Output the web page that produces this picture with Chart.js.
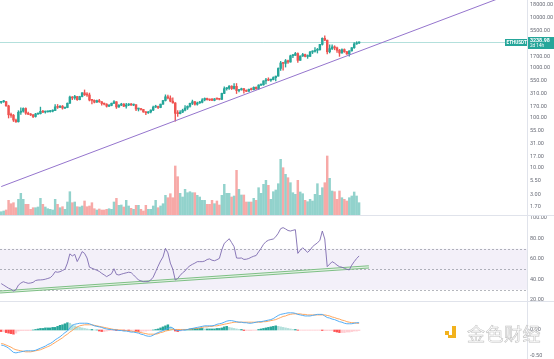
<!DOCTYPE html>
<html>
<head>
<meta charset="utf-8">
<script src="https://cdn.jsdelivr.net/npm/chart.js@4.4.0/dist/chart.umd.min.js"></script>
<style>
  body { margin: 0; background: #fff; width: 554px; height: 359px; overflow: hidden; position: relative; }
  canvas { position: absolute; left: 0; }
  #wm { position: absolute; left: 444px; top: 322px; width: 110px; height: 24px; pointer-events: none; }
  #wm .dot { position: absolute; left: 1px; top: 9px; width: 4px; height: 4px; background: #f2b21d; }
  #wm .bar { position: absolute; left: 8px; top: 4px; width: 4px; height: 12px; background: #f2b21d; }
  #wm .foot { position: absolute; left: 4px; top: 13px; width: 8px; height: 3px; background: #f2b21d; }
  #wm .txt { position: absolute; left: 23px; top: -2px; font-family: "Noto Sans CJK SC", sans-serif; font-size: 18px; letter-spacing: 0.5px;
             color: rgba(255,255,255,0.7); -webkit-text-stroke: 0.6px #c4c4c4; white-space: nowrap; }
</style>
</head>
<body>
<canvas id="price" width="554" height="215" style="top:0"></canvas>
<canvas id="rsi" width="554" height="86" style="top:215px"></canvas>
<canvas id="macd" width="554" height="58" style="top:301px"></canvas>
<div id="wm"><i class="dot"></i><i class="bar"></i><i class="foot"></i><span class="txt">金色财经</span></div>
<script>
// ETHUSDT weekly, 2018-10-29 .. 2021-08-16
const symbolName = 'ETHUSDT';
const countdown = '2d 14h';

const opens = [205,211,212,174,116,113,91,84,130,137,155,125,119,115,107,120,122,136,131,133,
  134,137,141,167,163,172,158,162,197,262,251,268,232,268,318,291,288,228,225,207,
  222,211,195,189,172,178,197,211,166,180,190,172,182,183,181,184,151,151,148,132,
  127,132,144,165,170,162,189,223,265,250,217,200,124,122,131,143,158,171,196,211,
  188,200,206,230,246,232,229,225,241,239,236,310,385,393,432,387,428,353,368,384,
  354,341,375,368,409,383,455,460,550,575,568,584,640,685,975,1255,1230,1390,1310,1745,
  1780,1935,1416,1727,1850,1690,1700,2075,2140,2240,2300,2945,3900,3580,2100,2430,2630,2510,2250,1980,
  2320,2110,1900,2190,2530,3010,3150];
const highs = [216,225,214,180,125,118,95,140,160,160,160,132,123,118,124,126,165,142,138,137,
  142,145,185,186,177,178,163,200,275,268,285,270,272,320,363,320,315,237,230,228,
  237,213,199,193,185,199,223,212,185,197,194,197,193,196,190,186,157,152,149,134,
  135,145,173,180,172,190,225,290,287,277,254,202,140,140,150,176,175,198,228,215,
  208,215,245,252,250,239,248,245,250,245,313,420,405,445,440,488,488,375,395,392,
  365,378,395,420,417,460,475,555,622,635,598,660,690,1000,1350,1270,1475,1440,1800,1870,
  2040,2000,1750,1945,1880,1820,2150,2200,2550,2450,2950,3980,4372,3600,2900,2890,2770,2610,2340,2400,
  2400,2130,2200,2550,3190,3330,3330];
const lows = [196,205,172,100,103,85,82,83,118,130,118,117,112,102,104,118,120,128,125,130,
  130,132,140,155,160,150,153,160,195,232,235,225,230,264,281,270,219,190,200,205,
  205,180,182,165,168,175,194,155,163,176,168,158,176,179,176,140,138,144,130,116,
  124,127,140,162,153,160,187,218,240,210,197,86,107,120,128,139,148,164,185,180,
  180,196,199,220,226,222,222,220,234,230,232,305,360,370,370,378,308,330,358,312,
  335,338,360,365,370,372,440,450,480,555,535,575,550,680,890,900,1040,1230,1300,1600,
  1770,1290,1410,1700,1660,1550,1680,1930,2050,1980,2250,2850,3500,1900,2000,2320,2300,2040,1700,1960,
  2040,1850,1720,2150,2460,2950,3030];
const closes = [211,212,174,116,113,91,84,130,137,155,125,119,115,107,120,122,136,131,133,134,
  137,141,167,163,172,158,162,197,262,251,268,232,268,318,291,288,228,225,207,222,
  211,195,189,172,178,197,211,166,180,190,172,182,183,181,184,151,151,148,132,127,
  132,144,165,170,162,189,223,265,250,217,200,124,122,131,143,158,171,196,211,188,
  200,206,230,246,232,229,225,241,239,236,310,385,393,432,387,428,353,368,384,354,
  341,375,368,409,383,455,460,550,575,568,584,640,685,975,1255,1230,1390,1310,1745,1780,
  1935,1416,1727,1850,1690,1700,2075,2140,2240,2300,2945,3900,3580,2100,2430,2630,2510,2250,1980,2320,
  2110,1900,2190,2530,3010,3150,3238.98];
const volumes = [3.3,4,5,14.7,11.3,12.3,7.3,15.7,21.7,15.7,10.7,10.7,5.7,7.3,7.3,8,16.7,10.7,8,6.3,
  5.7,5,15.7,10.7,7.3,8.3,5.7,13,23.3,12.3,13,8.3,8,9,14,8.3,9,12.3,6.3,5,
  6,5,5,5.7,6.3,5.7,13,16.7,9.7,10,8,14.7,9,6.7,5.7,9.7,9.7,5.7,4,9.7,
  5.7,5.7,9,14.7,7.3,9,11.3,19.7,17.3,21.3,17.3,49,38.3,21.7,18,25.7,22.3,23.3,22.3,22.3,
  19.7,18,14.7,14.7,10.7,10.7,14.7,11.3,14,10,19.7,30.7,21.7,21.7,18,19,44.7,25.7,20,20,
  13,13,13,16.7,14.7,27.3,21.7,30.7,34.7,29.7,15.7,23.3,25,31.3,55.7,47.3,40.7,37.3,32.3,22.3,
  20.7,34.7,23,21.3,14.7,13.3,15.7,14,20.7,31.3,19.7,27.3,32.3,59,36.7,24,23.3,15.7,24,17.3,
  15.7,14,17.3,19,23,19,12.3];
const rsiValues = [36,34.5,33,31.5,30.5,28.8,30,34.5,36.5,37.8,37,36.3,36.6,37.2,39,39.5,39.6,39.8,40.3,41,
  41.8,44,47.6,47.1,47.6,48.8,50,56,65,63,64.5,57.5,62,67.2,65.5,61,52,51,50,49,
  47.9,46,44.5,42.8,44.2,45.6,50.5,45,44.4,45.2,45.9,46.5,47.1,46.7,44.4,42,39.5,38.7,37.9,37.9,
  37.9,39.5,42.3,47.6,53,58,62,70.4,66,56,50,39.5,41,44,46.6,48.4,51.4,53.4,54.8,56,
  57.4,57.4,57.4,58,59.5,60.1,58.8,58.3,59.3,60.6,69,75.3,77.4,79.8,76,72,61,60.8,61,59.6,
  59.8,60.5,61.7,62.7,63.4,67,70.4,74.3,76.9,78.3,79,79.5,81.7,85.1,89.6,90.6,89.3,87.8,87.3,88,
  88.6,65.5,68.6,71,68.7,66.5,68.7,72,74,75.7,78.3,87.3,79.5,52.5,55,57.4,56,54,52.5,52,
  50.9,50,49.3,54,57.4,60.5,63];
const macdValues = [-0.29,-0.30,-0.32,-0.35,-0.39,-0.43,-0.44,-0.43,-0.42,-0.41,-0.40,-0.40,-0.40,-0.40,-0.39,-0.37,-0.35,-0.33,-0.31,-0.28,
  -0.26,-0.23,-0.19,-0.16,-0.13,-0.09,-0.05,-0.02,0.04,0.09,0.11,0.12,0.13,0.13,0.13,0.13,0.12,0.10,0.08,0.07,
  0.06,0.05,0.03,0.02,0.01,0.01,0.00,0.00,-0.01,-0.01,-0.02,-0.02,-0.03,-0.04,-0.04,-0.05,-0.06,-0.08,-0.09,-0.11,
  -0.12,-0.12,-0.10,-0.07,-0.05,-0.03,-0.01,0.01,0.03,0.05,0.04,0.00,-0.01,-0.01,0.00,0.00,0.01,0.02,0.03,0.04,
  0.05,0.06,0.07,0.08,0.08,0.08,0.08,0.09,0.11,0.12,0.13,0.15,0.17,0.18,0.18,0.17,0.16,0.15,0.15,0.14,
  0.14,0.13,0.13,0.14,0.15,0.16,0.16,0.17,0.18,0.19,0.20,0.22,0.25,0.28,0.30,0.31,0.32,0.33,0.33,0.33,
  0.32,0.30,0.29,0.28,0.27,0.27,0.27,0.28,0.29,0.30,0.30,0.30,0.27,0.24,0.23,0.21,0.20,0.18,0.16,0.15,
  0.13,0.12,0.12,0.12,0.13,0.14,0.14];
const signalValues = [-0.26,-0.27,-0.29,-0.31,-0.33,-0.36,-0.38,-0.39,-0.40,-0.41,-0.42,-0.42,-0.42,-0.41,-0.40,-0.39,-0.38,-0.36,-0.34,-0.32,
  -0.30,-0.27,-0.24,-0.21,-0.18,-0.15,-0.11,-0.08,-0.04,-0.01,0.03,0.06,0.08,0.09,0.10,0.10,0.10,0.10,0.09,0.08,
  0.07,0.06,0.05,0.04,0.03,0.02,0.01,0.01,0.00,0.00,-0.01,-0.01,-0.02,-0.02,-0.03,-0.03,-0.04,-0.05,-0.06,-0.07,
  -0.08,-0.08,-0.08,-0.08,-0.07,-0.05,-0.04,-0.02,-0.01,0.00,0.01,0.01,0.01,0.01,0.01,0.01,0.01,0.01,0.02,0.03,
  0.03,0.04,0.05,0.06,0.06,0.07,0.07,0.08,0.08,0.09,0.10,0.11,0.12,0.13,0.14,0.15,0.15,0.15,0.15,0.15,
  0.15,0.15,0.15,0.15,0.15,0.15,0.15,0.16,0.16,0.17,0.18,0.19,0.20,0.22,0.24,0.26,0.27,0.29,0.30,0.31,
  0.31,0.31,0.31,0.30,0.30,0.29,0.29,0.29,0.29,0.29,0.29,0.29,0.29,0.28,0.27,0.25,0.24,0.22,0.21,0.19,
  0.18,0.16,0.15,0.14,0.14,0.13,0.13];
const histValues = [-0.03,-0.03,-0.05,-0.06,-0.07,-0.08,-0.06,-0.02,-0.01,-0.01,-0.01,-0.01,-0.01,0,0.01,0.02,0.03,0.03,0.04,0.04,
  0.04,0.05,0.05,0.07,0.09,0.10,0.12,0.14,0.13,0.10,0.08,0.06,0.05,0.04,0.03,0.02,0.01,0.01,0,0,
  -0.02,-0.03,-0.03,-0.02,-0.01,-0.01,-0.005,-0.01,-0.01,-0.005,-0.01,-0.005,-0.01,-0.01,-0.01,-0.02,-0.03,-0.03,-0.02,-0.02,
  -0.01,-0.01,0,0.01,0.02,0.04,0.06,0.08,0.10,0.06,0.03,-0.02,-0.03,-0.02,-0.01,0,0.01,0.02,0.03,0.03,
  0.03,0.03,0.03,0.02,0.02,0.02,0.02,0.02,0.03,0.03,0.04,0.06,0.07,0.05,0.04,0.03,0.02,0.01,0.01,-0.01,
  -0.01,-0.01,-0.01,-0.005,-0.005,0.01,0.02,0.03,0.04,0.05,0.06,0.07,0.08,0.07,0.06,0.05,0.04,0.03,0.02,0.01,
  0.01,-0.005,-0.005,-0.005,-0.005,-0.005,-0.005,-0.005,-0.005,-0.005,-0.005,-0.01,-0.01,-0.01,-0.01,-0.01,-0.03,-0.04,-0.05,-0.05,
  -0.05,-0.04,-0.04,-0.03,-0.02,-0.02,-0.01];

const priceTicks = [18000, 10000, 5500, 1700, 1000, 550, 310, 170, 100, 55, 31, 17, 10, 5.5, 3, 1.7];
const rsiTicks = [100, 80, 60, 40, 20];
const macdTicks = [0, -0.5];
const rsiLevels = [70, 50, 30];

// drawn trend lines (bar index, value)
const trendIdx = [0, 214];
const trendPrice = [4.28, 38900];
const rsiTrendIdx = [-0.5, 150];
const rsiTrendValue = [27.8, 52.3];

const SLOTS = 215;
const UP = '#26a69a', DOWN = '#ef5350';
const up = closes.map((c, i) => c >= opens[i]);

const xAxis = { type: 'linear', display: false, min: -0.5, max: SLOTS - 0.5, offset: false };

function rightAxis(type, min, max, ticks) {
  return {
    type, position: 'right', min, max,
    grid: { display: false, drawTicks: false },
    border: { display: false },
    // fixed axis width, no extra padding so the pane fills the canvas
    afterFit: s => { s.width = 27; s.paddingTop = 0; s.paddingBottom = 0; },
    afterBuildTicks: s => { s.ticks = ticks.map(v => ({ value: v })); },
    ticks: {
      autoSkip: false, padding: 3, color: '#6a6d78',
      font: { size: 5.5, family: 'Roboto' },
      callback: v => Number(v).toFixed(2)
    }
  };
}

// right axis border + pane separator
const paneFrame = {
  id: 'paneFrame',
  afterDraw(chart, args, opts) {
    const { ctx, chartArea: a } = chart;
    ctx.save();
    ctx.strokeStyle = '#e0e3eb';
    ctx.lineWidth = 1;
    ctx.beginPath();
    ctx.moveTo(a.right + 0.5, 0);
    ctx.lineTo(a.right + 0.5, chart.height);
    if (opts.top) {
      ctx.moveTo(0, 0.5);
      ctx.lineTo(chart.width, 0.5);
    }
    ctx.stroke();
    ctx.restore();
  }
};

const lastPriceTag = {
  id: 'lastPriceTag',
  beforeDatasetsDraw(chart) {
    const { ctx, chartArea: a, scales: { y } } = chart;
    const py = Math.round(y.getPixelForValue(closes[closes.length - 1])) + 0.5;
    ctx.save();
    ctx.strokeStyle = 'rgba(38,166,154,0.35)';
    ctx.lineWidth = 1;
    ctx.beginPath();
    ctx.moveTo(a.left, py);
    ctx.lineTo(a.right, py);
    ctx.stroke();
    ctx.restore();
  },
  afterDraw(chart) {
    const { ctx, chartArea: a, scales: { y } } = chart;
    const last = closes[closes.length - 1];
    const py = Math.round(y.getPixelForValue(last));
    ctx.save();
    ctx.fillStyle = UP;
    ctx.fillRect(a.right - 22, py - 3, 22, 7);
    ctx.fillRect(a.right + 1, py - 5, chart.width - a.right - 1, 12);
    ctx.fillStyle = '#fff';
    ctx.textBaseline = 'middle';
    ctx.font = 'bold 4.6px Roboto';
    ctx.fillText(symbolName, a.right - 20.5, py + 0.5);
    ctx.font = 'bold 5.3px Roboto';
    ctx.fillText(last.toFixed(2), a.right + 3, py - 1.5);
    ctx.font = '4.6px Roboto';
    ctx.fillText(countdown, a.right + 3, py + 4);
    ctx.restore();
  }
};

const rsiBand = {
  id: 'rsiBand',
  beforeDatasetsDraw(chart) {
    const { ctx, chartArea: a, scales: { y } } = chart;
    const top = y.getPixelForValue(rsiLevels[0]);
    const bot = y.getPixelForValue(rsiLevels[rsiLevels.length - 1]);
    ctx.save();
    ctx.fillStyle = 'rgba(126,87,194,0.09)';
    ctx.fillRect(a.left, top, a.right - a.left, bot - top);
    ctx.setLineDash([2, 2]);
    ctx.strokeStyle = 'rgba(120,123,134,0.55)';
    ctx.lineWidth = 1;
    rsiLevels.forEach(v => {
      const py = Math.round(y.getPixelForValue(v)) + 0.5;
      ctx.beginPath();
      ctx.moveTo(a.left, py);
      ctx.lineTo(a.right, py);
      ctx.stroke();
    });
    ctx.restore();
  }
};

const common = {
  responsive: false,
  devicePixelRatio: 1,
  animation: false,
  events: [],
  layout: { padding: 0 },
  plugins: { legend: { display: false }, tooltip: { enabled: false } }
};

// price pane
new Chart(document.getElementById('price'), {
  type: 'bar',
  data: {
    datasets: [
      {
        label: 'Volume', yAxisID: 'vol', order: 5, grouped: false, barThickness: 1.8,
        data: volumes.map((v, i) => ({ x: i, y: v })),
        backgroundColor: up.map(u => u ? 'rgba(38,166,154,0.5)' : 'rgba(239,83,80,0.5)')
      },
      {
        label: 'Wick', yAxisID: 'y', order: 3, grouped: false, barThickness: 0.7,
        data: highs.map((h, i) => ({ x: i, y: [lows[i], h] })),
        backgroundColor: up.map(u => u ? UP : DOWN)
      },
      {
        label: 'Body', yAxisID: 'y', order: 2, grouped: false, barThickness: 1.8, minBarLength: 1,
        data: opens.map((o, i) => ({ x: i, y: [o, closes[i]] })),
        backgroundColor: up.map(u => u ? UP : DOWN)
      },
      {
        type: 'line', label: 'Trend', yAxisID: 'y', order: 1,
        data: trendIdx.map((x, i) => ({ x, y: trendPrice[i] })),
        borderColor: '#9575cd', borderWidth: 1, pointRadius: 0
      }
    ]
  },
  options: {
    ...common,
    scales: {
      x: xAxis,
      y: rightAxis('logarithmic', 1.1585, 22664, priceTicks),
      vol: { type: 'linear', display: false, min: 0, max: 215 }
    }
  },
  plugins: [lastPriceTag, paneFrame]
});

// RSI pane
new Chart(document.getElementById('rsi'), {
  type: 'line',
  data: {
    datasets: [
      {
        label: 'RSI', order: 1,
        data: rsiValues.map((v, i) => ({ x: i, y: v })),
        borderColor: '#7e6bb0', borderWidth: 0.9, pointRadius: 0, tension: 0
      },
      {
        label: 'RSI trend inner', order: 2,
        data: rsiTrendIdx.map((x, i) => ({ x, y: rsiTrendValue[i] })),
        borderColor: '#e3f2e4', borderWidth: 1.2, pointRadius: 0
      },
      {
        label: 'RSI trend', order: 3,
        data: rsiTrendIdx.map((x, i) => ({ x, y: rsiTrendValue[i] })),
        borderColor: '#7fbf86', borderWidth: 3.2, pointRadius: 0
      }
    ]
  },
  options: {
    ...common,
    scales: { x: xAxis, y: rightAxis('linear', 19.024, 102.927, rsiTicks) },
    plugins: { ...common.plugins, paneFrame: { top: true } }
  },
  plugins: [rsiBand, paneFrame]
});

// MACD pane
const histColors = histValues.map((h, i) => {
  const prev = i ? histValues[i - 1] : 0;
  if (h >= 0) return h >= prev ? '#26a69a' : '#b2dfdb';
  return h < prev ? '#ff5252' : '#ffcdd2';
});

new Chart(document.getElementById('macd'), {
  type: 'bar',
  data: {
    datasets: [
      {
        label: 'Histogram', order: 3, grouped: false, barThickness: 1.8,
        data: histValues.map((v, i) => ({ x: i, y: v })),
        backgroundColor: histColors
      },
      {
        type: 'line', label: 'MACD', order: 1,
        data: macdValues.map((v, i) => ({ x: i, y: v })),
        borderColor: '#42a5f5', borderWidth: 0.9, pointRadius: 0
      },
      {
        type: 'line', label: 'Signal', order: 2,
        data: signalValues.map((v, i) => ({ x: i, y: v })),
        borderColor: '#ff9d4d', borderWidth: 0.9, pointRadius: 0
      }
    ]
  },
  options: {
    ...common,
    scales: { x: xAxis, y: rightAxis('linear', -0.5577, 0.5577, macdTicks) },
    plugins: { ...common.plugins, paneFrame: { top: true } }
  },
  plugins: [paneFrame]
});
</script>
</body>
</html>
